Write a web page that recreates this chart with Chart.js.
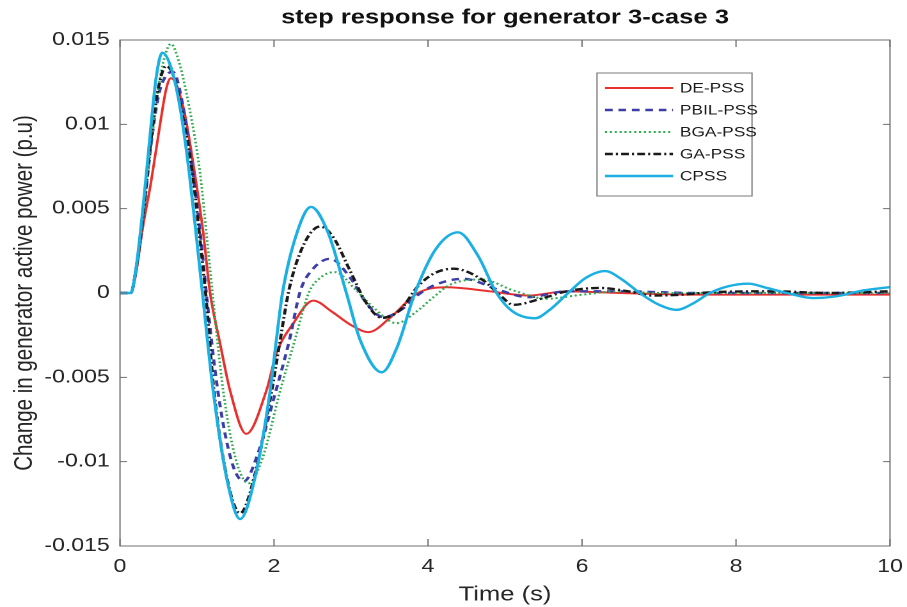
<!DOCTYPE html>
<html>
<head>
<meta charset="utf-8">
<script src="https://cdn.jsdelivr.net/npm/chart.js@4.4.1/dist/chart.umd.min.js"></script>
<style>
html,body{margin:0;padding:0;background:#fff;overflow:hidden;width:907px;height:607px;}
#wrap{position:absolute;left:0;top:0;width:709px;height:607px;transform:scaleX(1.279267);transform-origin:0 0;}
canvas{display:block;}
</style>
</head>
<body>
<div id="wrap"><canvas id="c" width="709" height="607"></canvas></div>
<script>
// ---------------- data ----------------
const seriesNames = ['DE-PSS', 'PBIL-PSS', 'BGA-PSS', 'GA-PSS', 'CPSS'];

const deT = [0, 0.14, 0.2, 0.3, 0.4, 0.52, 0.6, 0.66, 0.82, 0.97, 1.08, 1.17, 1.3, 1.43, 1.64, 1.9, 2.03, 2.25, 2.51, 2.75, 3.0, 3.23, 3.5, 3.87, 4.24, 4.8, 5.3, 5.8, 6.5, 7.5, 8.5, 10];
const deV = [0, 0, 0.0010, 0.0040, 0.0065, 0.0100, 0.0121, 0.01273, 0.01105, 0.0071, 0.0036, 0, -0.0030, -0.0058, -0.00835, -0.0058, -0.0036, -0.0018, -0.00045, -0.0011, -0.0019, -0.00232, -0.0015, 0, 0.00034, 0.0001, -0.00015, 0.0001, 0, -0.0001, -0.0001, -0.0001];

const pbilT = [0, 0.14, 0.2, 0.3, 0.4, 0.5, 0.6, 0.69, 0.8, 0.94, 1.05, 1.13, 1.27, 1.45, 1.61, 1.8, 2.0, 2.2, 2.34, 2.5, 2.73, 2.99, 3.2, 3.42, 3.65, 3.86, 4.07, 4.46, 4.94, 5.3, 5.8, 6.5, 7.5, 10];
const pbilV = [0, 0, 0.0011, 0.0045, 0.0087, 0.0117, 0.0129, 0.0131, 0.0115, 0.0073, 0.0032, -0.0004, -0.0058, -0.0100, -0.01116, -0.0094, -0.0062, -0.0028, 0.0001, 0.0014, 0.00203, 0.0009, -0.0006, -0.00143, -0.0010, -0.00015, 0.00044, 0.00084, 0.00015, -0.00025, 0.0001, 0.0001, 0, 0];

const bgaT = [0, 0.14, 0.2, 0.3, 0.4, 0.5, 0.58, 0.66, 0.76, 0.9, 1.04, 1.13, 1.21, 1.34, 1.5, 1.67, 1.85, 2.08, 2.27, 2.45, 2.6, 2.79, 3.07, 3.3, 3.59, 3.85, 4.07, 4.29, 4.7, 5.11, 5.54, 6.0, 6.5, 7.0, 8.0, 10];
const bgaV = [0, 0, 0.0010, 0.0045, 0.0086, 0.0122, 0.0140, 0.01477, 0.0138, 0.0110, 0.0071, 0.0032, -0.0004, -0.0058, -0.0098, -0.01128, -0.0098, -0.0058, -0.0028, 0, 0.0009, 0.00124, 0.00015, -0.0009, -0.00179, -0.0011, -0.00025, 0.0005, 0.0008, 0.00015, -0.00034, -0.0001, 0.0001, 0, 0, 0];

const gaT = [0, 0.14, 0.2, 0.3, 0.4, 0.5, 0.6, 0.7, 0.8, 0.94, 1.05, 1.12, 1.22, 1.4, 1.56, 1.75, 1.97, 2.08, 2.2, 2.4, 2.6, 2.77, 2.99, 3.2, 3.4, 3.64, 3.86, 4.07, 4.33, 4.72, 4.94, 5.11, 5.46, 5.8, 6.23, 6.6, 6.9, 7.3, 7.7, 8.5, 9.2, 10];
const gaV = [0, 0, 0.0012, 0.0047, 0.0090, 0.0122, 0.01346, 0.0128, 0.0108, 0.0071, 0.0027, -0.0004, -0.0058, -0.0112, -0.01306, -0.0108, -0.0058, -0.0028, 0.0003, 0.0030, 0.00394, 0.0033, 0.0013, -0.0006, -0.00147, -0.0010, 0.00035, 0.00114, 0.00144, 0.00074, -0.00015, -0.0007, -0.00035, 0.0001, 0.0003, 0.0001, -0.00015, -0.0001, 0.00005, 0.0001, 0, 0.0001];

const cpssT = [0, 0.14, 0.2, 0.3, 0.4, 0.47, 0.55, 0.66, 0.78, 0.9, 1.0, 1.08, 1.21, 1.4, 1.56, 1.75, 1.95, 2.03, 2.11, 2.3, 2.48, 2.7, 2.94, 3.12, 3.4, 3.6, 3.83, 4.1, 4.39, 4.65, 4.89, 5.1, 5.39, 5.58, 5.82, 6.05, 6.3, 6.52, 6.75, 7.0, 7.23, 7.45, 7.66, 7.9, 8.16, 8.4, 8.66, 9.0, 9.3, 9.65, 10];
const cpssV = [0, 0, 0.0012, 0.0051, 0.0098, 0.0128, 0.01425, 0.0134, 0.0110, 0.0071, 0.0030, -0.0004, -0.0058, -0.0113, -0.0134, -0.0110, -0.0058, -0.0028, 0, 0.0036, 0.0051, 0.0036, 0, -0.0028, -0.0047, -0.0032, 0, 0.0026, 0.0036, 0.0022, 0, -0.0011, -0.0015, -0.0010, 0, 0.0009, 0.0013, 0.0008, 0, -0.0007, -0.0010, -0.0006, 0, 0.0004, 0.00055, 0.0003, 0, -0.0003, -0.0002, 0.00015, 0.00035];

const xTickVals = [0, 2, 4, 6, 8, 10];
const xTickLabels = ['0', '2', '4', '6', '8', '10'];
const yTickVals = [-0.015, -0.01, -0.005, 0, 0.005, 0.01, 0.015];
const yTickLabels = ['-0.015', '-0.01', '-0.005', '0', '0.005', '0.01', '0.015'];

const titleText = 'step response for generator 3-case 3';
const xTitle = 'Time (s)';
const yTitle = 'Change in generator active power (p.u)';

// ---------------- styles ----------------
const K = 907 / 709;                // horizontal stretch of the reference
const hx = v => v / K;              // reference x (px) -> canvas x
const FONT = "'Liberation Sans', Arial, Helvetica, sans-serif";
const styles = [
  { color: '#e8302e', width: 2,   dash: [] },
  { color: '#3d3da8', width: 2.4, dash: [6, 4.5] },
  { color: '#2faa4c', width: 2,   dash: [1.6, 2.2] },
  { color: '#1a1a1a', width: 2.4, dash: [6, 2.5, 1.6, 2.5] },
  { color: '#1cb0e2', width: 2.4, dash: [] }
];
const seriesT = [deT, pbilT, bgaT, gaT, cpssT];
const seriesV = [deV, pbilV, bgaV, gaV, cpssV];

const datasets = seriesNames.map((name, i) => ({
  label: name,
  data: seriesT[i].map((t, j) => ({ x: t, y: seriesV[i][j] })),
  borderColor: styles[i].color,
  borderWidth: styles[i].width,
  borderDash: styles[i].dash,
  pointRadius: 0,
  fill: false,
  cubicInterpolationMode: 'monotone',
  order: seriesNames.length - i
}));

const findLabel = (vals, labels, v) => {
  const k = vals.findIndex(t => Math.abs(t - v) < 1e-9);
  return k >= 0 ? labels[k] : '';
};

// axes box, inward tick marks and in-plot legend (MATLAB style)
const framePlugin = {
  id: 'frame',
  afterDraw(chart) {
    const { ctx, chartArea: a, scales: { x, y } } = chart;
    ctx.save();
    ctx.strokeStyle = '#6e6e6e';
    ctx.lineWidth = 1;
    ctx.setLineDash([]);
    ctx.strokeRect(a.left, a.top, a.right - a.left, a.bottom - a.top);
    ctx.beginPath();
    xTickVals.forEach(v => {
      const X = x.getPixelForValue(v);
      ctx.moveTo(X, a.bottom); ctx.lineTo(X, a.bottom - 7);
      ctx.moveTo(X, a.top); ctx.lineTo(X, a.top + 7);
    });
    yTickVals.forEach(v => {
      const Y = y.getPixelForValue(v);
      ctx.moveTo(a.left, Y); ctx.lineTo(a.left + 5.5, Y);
      ctx.moveTo(a.right, Y); ctx.lineTo(a.right - 5.5, Y);
    });
    ctx.stroke();

    // legend
    const L = hx(597), T = 73, R = hx(752), B = 196;
    ctx.fillStyle = '#ffffff';
    ctx.fillRect(L, T, R - L, B - T);
    ctx.strokeStyle = '#7a7a7a';
    ctx.lineWidth = 1;
    ctx.strokeRect(L, T, R - L, B - T);
    ctx.font = '13.5px ' + FONT;
    ctx.textBaseline = 'middle';
    ctx.textAlign = 'left';
    chart.data.datasets.forEach((ds, i) => {
      const yy = 88 + i * 22;
      ctx.beginPath();
      ctx.strokeStyle = ds.borderColor;
      ctx.lineWidth = ds.borderWidth;
      ctx.setLineDash(ds.borderDash || []);
      ctx.moveTo(hx(605), yy);
      ctx.lineTo(hx(673), yy);
      ctx.stroke();
      ctx.setLineDash([]);
      ctx.fillStyle = '#1a1a1a';
      ctx.fillText(ds.label, hx(680), yy + 1);
    });
    ctx.restore();
  }
};

new Chart(document.getElementById('c'), {
  type: 'line',
  data: { datasets },
  plugins: [framePlugin],
  options: {
    responsive: false,
    devicePixelRatio: 2,
    animation: false,
    events: [],
    layout: { padding: 0 },
    plugins: {
      legend: { display: false },
      tooltip: { enabled: false },
      title: {
        display: true,
        text: titleText,
        fullSize: false,
        color: '#111',
        font: { family: FONT, size: 20, weight: 'bold' },
        padding: { top: 6, bottom: 10 }
      }
    },
    scales: {
      x: {
        type: 'linear',
        min: 0, max: 10,
        afterFit: s => {
          s.height = 607 - 546;
          s.paddingLeft = 0;
          s.paddingRight = hx(907 - 890);
        },
        grid: { display: false, drawTicks: false },
        border: { display: false },
        ticks: {
          stepSize: 2, maxRotation: 0, autoSkip: false, padding: 10,
          color: '#262626', font: { family: FONT, size: 18 },
          callback: v => findLabel(xTickVals, xTickLabels, v)
        },
        title: {
          display: true, text: xTitle, color: '#262626',
          font: { family: FONT, size: 20 }, padding: { top: 0, bottom: 0 }
        }
      },
      y: {
        type: 'linear',
        min: -0.015, max: 0.015,
        afterFit: s => { s.width = hx(120); },
        grid: { display: false, drawTicks: false },
        border: { display: false },
        ticks: {
          stepSize: 0.005, autoSkip: false, padding: 8,
          color: '#262626', font: { family: FONT, size: 18 },
          callback: v => findLabel(yTickVals, yTickLabels, v)
        },
        title: {
          display: true, text: yTitle, color: '#262626',
          font: { family: FONT, size: 20.5 }, padding: { top: 7, bottom: 0 }
        }
      }
    }
  }
});
</script>
</body>
</html>
